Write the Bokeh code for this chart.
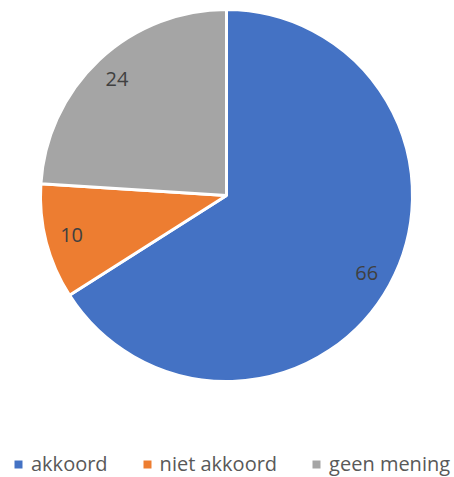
import math
from bokeh.plotting import figure
from bokeh.models import ColumnDataSource, Range1d, Legend, LegendItem
from bokeh.core.properties import value
from bokeh.embed import file_html
from bokeh.resources import INLINE

categories = ["akkoord", "niet akkoord", "geen mening"]
values = [66, 10, 24]
colors = ["#4472C4", "#ED7D31", "#A5A5A5"]

W, H = 454, 477
cx, cy, R = 226, H - 195, 186

total = sum(values)
starts, ends, lx, ly = [], [], [], []
acc = 0.0
for v in values:
    a0 = math.pi / 2 - 2 * math.pi * acc / total
    acc += v
    a1 = math.pi / 2 - 2 * math.pi * acc / total
    starts.append(a0)
    ends.append(a1)
    mid = (a0 + a1) / 2
    lx.append(cx + 0.86 * R * math.cos(mid))
    ly.append(cy + 0.86 * R * math.sin(mid))

src = ColumnDataSource(dict(start=starts, end=ends, color=colors, label=categories,
                            txt=[str(v) for v in values], lx=lx, ly=ly,
                            nx=[float("nan")] * 3))

p = figure(width=W, height=H, output_backend="svg", toolbar_location=None,
           x_range=Range1d(0, W), y_range=Range1d(0, H), min_border=0)
p.axis.visible = False
p.grid.visible = False
p.outline_line_color = None
p.background_fill_color = "white"

p.wedge(x=cx, y=cy, radius=R, start_angle="start", end_angle="end", direction="clock",
        fill_color="color", line_color="white", line_width=3, source=src)

p.text(x="lx", y="ly", text="txt", source=src, text_align="center", text_baseline="middle",
       text_font=value("Open Sans"), text_font_size="20px", text_color="#404040")

# legend swatches (not drawn in the plot area)
sw = p.rect(x="nx", y="nx", width=1, height=1, fill_color="color", line_color=None, source=src)

items = [LegendItem(label=c, renderers=[sw], index=i) for i, c in enumerate(categories)]
legend = Legend(items=items, orientation="horizontal", location=(13, 0),
                glyph_width=10, glyph_height=10, label_standoff=8, spacing=34,
                padding=0, margin=0, border_line_alpha=0, background_fill_alpha=0,
                label_text_font="Open Sans", label_text_font_size="20px",
                label_text_color="#595959")
p.add_layout(legend, "center")

open("out.html", "w").write(file_html(p, INLINE))
